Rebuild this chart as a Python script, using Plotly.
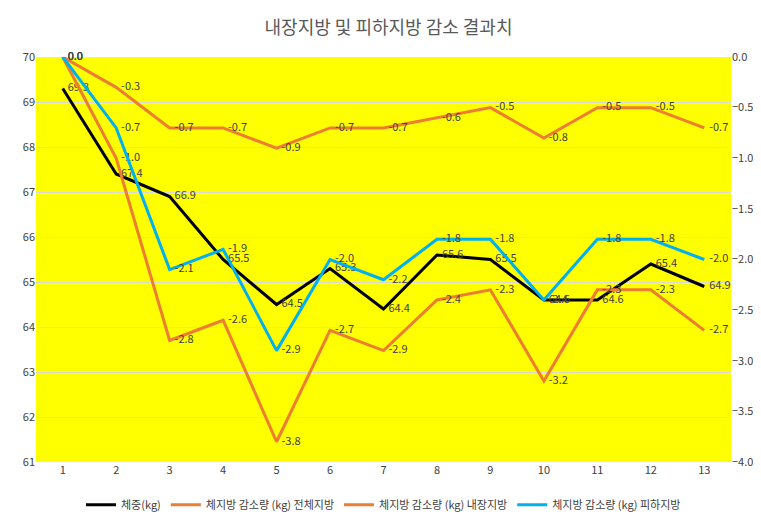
import plotly.graph_objects as go

# data
x = list(range(1, 14))
weight = [69.3, 67.4, 66.9, 65.5, 64.5, 65.3, 64.4, 65.6, 65.5, 64.6, 64.6, 65.4, 64.9]
fat_total = [0.0, -1.0, -2.8, -2.6, -3.8, -2.7, -2.9, -2.4, -2.3, -3.2, -2.3, -2.3, -2.7]
fat_visceral = [0.0, -0.3, -0.7, -0.7, -0.9, -0.7, -0.7, -0.6, -0.5, -0.8, -0.5, -0.5, -0.7]
fat_subcut = [0.0, -0.7, -2.1, -1.9, -2.9, -2.0, -2.2, -1.8, -1.8, -2.4, -1.8, -1.8, -2.0]

fig = go.Figure()


def add(y, name, color, axis):
    fig.add_trace(go.Scatter(
        x=x, y=y, name=name, yaxis=axis, mode='lines+text',
        line=dict(color=color, width=3),
        text=['  %.1f' % v for v in y], textposition='middle right',
        textfont=dict(size=11, color='#404040'),
        cliponaxis=False))


add(weight, '체중(kg)', '#000000', 'y')
add(fat_total, '체지방 감소량 (kg) 전체지방', '#ED7D31', 'y2')
add(fat_visceral, '체지방 감소량 (kg) 내장지방', '#ED7D31', 'y2')
add(fat_subcut, '체지방 감소량 (kg) 피하지방', '#00B0F0', 'y2')

fig.update_layout(
    width=761, height=523,
    margin=dict(l=28, r=38, t=49, b=62),
    paper_bgcolor='white', plot_bgcolor='#FFFF00',
    font=dict(family='Noto Sans CJK KR', size=11, color='#404040'),
    title=dict(text='내장지방 및 피하지방 감소 결과치', x=0.5, y=0.975,
               xanchor='center', font=dict(size=18, color='#595959')),
    xaxis=dict(range=[0.5, 13.5], tickmode='array', tickvals=x,
               showgrid=False, ticks='', zeroline=False),
    yaxis=dict(range=[61, 70], dtick=1, gridcolor='#D9D9D9',
               zeroline=False, tickformat='d'),
    yaxis2=dict(range=[-4, 0], dtick=0.5, overlaying='y', side='right',
                showgrid=False, zeroline=False, tickformat='.1f'),
    legend=dict(orientation='h', x=0.5, xanchor='center', y=-0.07,
                yanchor='top', font=dict(size=11)),
)

fig.write_html('out.html')
